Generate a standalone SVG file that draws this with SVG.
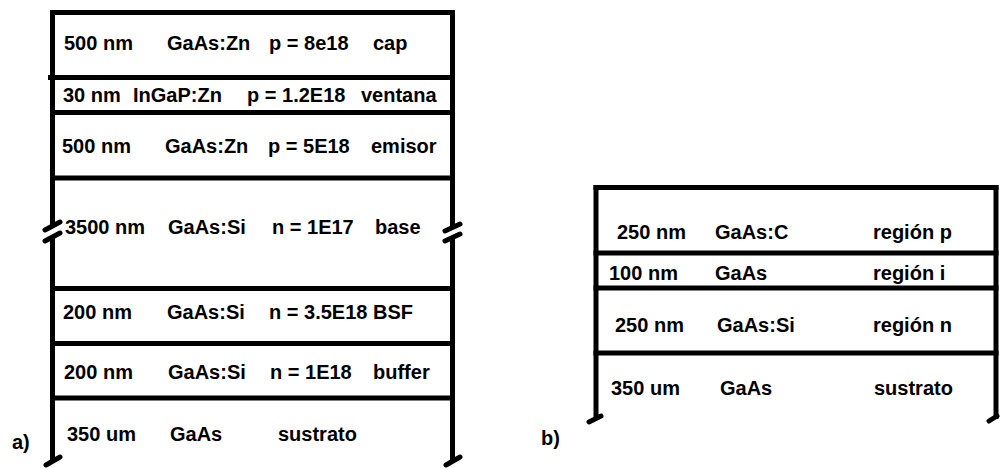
<svg xmlns="http://www.w3.org/2000/svg" width="1000" height="468" viewBox="0 0 1000 468">
<style>
.ln{stroke:#000;stroke-width:5;fill:none}
.ft{stroke:#000;stroke-width:5;fill:none;stroke-linecap:round}
text{font-family:"Liberation Sans",Arial,sans-serif;font-weight:bold;font-size:20px;fill:#000}
</style>
<rect width="1000" height="468" fill="#fff"/>
<g id="frame-a">
<line class="ln" x1="50" y1="12.5" x2="455" y2="12.5"/>
<line class="ln" x1="48" y1="77.5" x2="455" y2="77.5"/>
<line class="ln" x1="50" y1="112.5" x2="455" y2="112.5"/>
<line class="ln" x1="50" y1="178" x2="455" y2="178"/>
<line class="ln" x1="50" y1="288.5" x2="455" y2="288.5"/>
<line class="ln" x1="50" y1="343.5" x2="455" y2="343.5"/>
<line class="ln" x1="50" y1="398" x2="455" y2="398"/>
<line class="ln" x1="52.5" y1="10" x2="52.5" y2="226"/>
<line class="ft" x1="45" y1="230" x2="60" y2="222"/>
<line class="ft" x1="45" y1="241" x2="60" y2="233"/>
<line class="ln" x1="52.5" y1="236" x2="52.5" y2="461"/>
<line class="ft" x1="46" y1="465" x2="60" y2="457"/>
<line class="ln" x1="452.5" y1="10" x2="452.5" y2="226"/>
<line class="ft" x1="445" y1="231" x2="460" y2="224"/>
<line class="ft" x1="445" y1="241" x2="460" y2="234"/>
<line class="ln" x1="452.5" y1="236" x2="452.5" y2="461"/>
<line class="ft" x1="446" y1="465" x2="460" y2="457"/>
</g>
<g id="layer-cap"><text x="64" y="50">500 nm</text><text x="167" y="50">GaAs:Zn</text><text x="269" y="50">p = 8e18</text><text x="373" y="50">cap</text></g>
<g id="layer-ventana"><text x="63" y="102">30 nm</text><text x="133" y="102">InGaP:Zn</text><text x="247" y="102">p = 1.2E18</text><text x="361" y="102">ventana</text></g>
<g id="layer-emisor"><text x="62" y="153">500 nm</text><text x="165" y="153">GaAs:Zn</text><text x="268" y="153">p = 5E18</text><text x="371" y="153">emisor</text></g>
<g id="layer-base"><text x="65" y="234">3500 nm</text><text x="168" y="234">GaAs:Si</text><text x="272" y="234">n = 1E17</text><text x="375" y="234">base</text></g>
<g id="layer-bsf"><text x="63" y="319">200 nm</text><text x="167" y="319">GaAs:Si</text><text x="269" y="319">n = 3.5E18 BSF</text></g>
<g id="layer-buffer"><text x="64" y="379">200 nm</text><text x="168" y="379">GaAs:Si</text><text x="270" y="379">n = 1E18</text><text x="373" y="379">buffer</text></g>
<g id="layer-sustrato-a"><text x="67" y="441">350 um</text><text x="170" y="441">GaAs</text><text x="278" y="441">sustrato</text></g>
<text x="12" y="449">a)</text>
<g id="frame-b">
<line class="ln" x1="593.5" y1="187.5" x2="998.5" y2="187.5"/>
<line class="ln" x1="593.5" y1="253" x2="998.5" y2="253"/>
<line class="ln" x1="593.5" y1="288" x2="998.5" y2="288"/>
<line class="ln" x1="593.5" y1="353" x2="998.5" y2="353"/>
<line class="ln" x1="596" y1="185" x2="596" y2="419"/>
<line class="ft" x1="589" y1="422" x2="601" y2="416"/>
<line class="ln" x1="996" y1="185" x2="996" y2="419"/>
<line class="ft" x1="989" y1="421" x2="997" y2="416"/>
</g>
<g id="layer-p"><text x="617" y="239">250 nm</text><text x="715" y="239">GaAs:C</text><text x="873" y="239">región p</text></g>
<g id="layer-i"><text x="609" y="280">100 nm</text><text x="715" y="280">GaAs</text><text x="873" y="280">región i</text></g>
<g id="layer-n"><text x="615" y="332">250 nm</text><text x="717" y="332">GaAs:Si</text><text x="873" y="332">región n</text></g>
<g id="layer-sustrato-b"><text x="611" y="395">350 um</text><text x="720" y="395">GaAs</text><text x="874" y="395">sustrato</text></g>
<text x="541" y="445">b)</text>
</svg>
